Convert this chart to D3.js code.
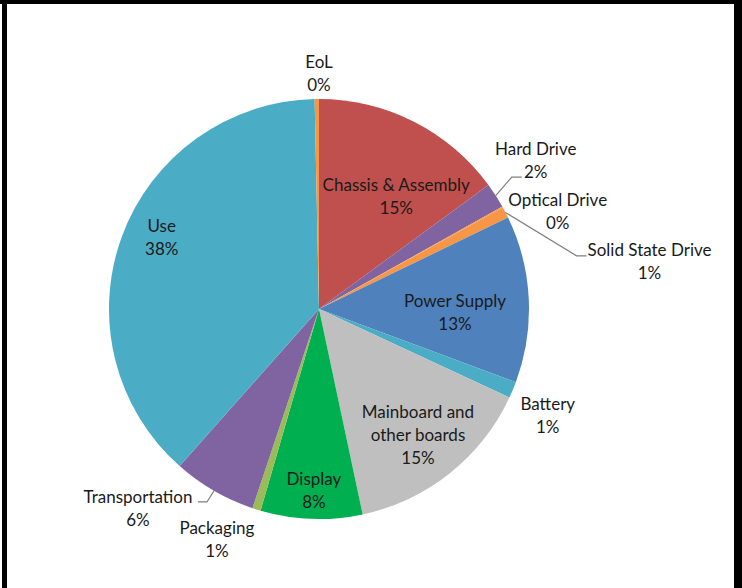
<!DOCTYPE html>
<html>
<head>
<meta charset="utf-8">
<script src="https://cdn.jsdelivr.net/npm/d3@7"></script>
<style>
  body { margin: 0; background: #fff; }
  text { font-family: Lato, "Open Sans", sans-serif; font-size: 17px; fill: #1a1a1a; }
</style>
</head>
<body>
<div id="chart"></div>
<script>
var svgWidth = 742;
var svgHeight = 588;

// slices, clockwise from 12 o'clock
var categories = ["Chassis & Assembly", "Hard Drive", "Optical Drive", "Solid State Drive",
  "Power Supply", "Battery", "Mainboard and other boards", "Display", "Packaging",
  "Transportation", "Use", "EoL"];
var shares = [14.9, 1.94, 0.08, 0.85, 12.8, 1.25, 14.7, 7.8, 0.64, 6.4, 38.0, 0.33];
var colors = ["#C0504D", "#8064A2", "#F79646", "#F79646", "#4F81BD", "#4BACC6",
  "#BFBFBF", "#00B050", "#9BBB59", "#8064A2", "#4BACC6", "#F79646"];

// label placement: distance from centre and angle (deg, clockwise from top)
var labelRadius = [137, 263, 258, 334, 136, 252, 160, 181, 252, 269, 173, 236];
var labelAngle = [34.3, 55.5, 67.7, 81.7, 91.3, 114.8, 141.8, 181.6, 203.9, 222.3, 294.6, 0];
// leader elbow / end relative to the label centre (null = no leader)
var leaders = [null, [[-24, 17], [-14, 17]], null, [[-73, -5], [-63, -5]], null, null, null, null, null,
  [[69, -6], [60, -6]], null, null];

var cx = 319, cy = 309, radius = 210;
var lineHeight = 23;

var svg = d3.select("#chart")
  .append("svg")
  .attr("width", svgWidth)
  .attr("height", svgHeight);

// black frame (top, left, right)
svg.append("rect").attr("x", 0).attr("y", 0).attr("width", svgWidth).attr("height", 4).attr("fill", "#000");
svg.append("rect").attr("x", 2).attr("y", 0).attr("width", 5).attr("height", svgHeight).attr("fill", "#000");
svg.append("rect").attr("x", 734).attr("y", 0).attr("width", 8).attr("height", svgHeight).attr("fill", "#000");

var total = d3.sum(shares);
var pie = d3.pie().sort(null).value(d => d);
var arcs = pie(shares);

var arc = d3.arc().innerRadius(0).outerRadius(radius);

var chartGroup = svg.append("g")
  .attr("transform", `translate(${cx},${cy})`);

chartGroup.selectAll("path.slice")
  .data(arcs)
  .enter()
  .append("path")
  .attr("class", "slice")
  .attr("d", arc)
  .attr("fill", (d, i) => colors[i]);

function polar(r, deg) {
  var a = deg * Math.PI / 180;
  return [r * Math.sin(a), -r * Math.cos(a)];
}

function labelLines(i) {
  var pct = Math.round(shares[i] / total * 100) + "%";
  if (categories[i] == "Mainboard and other boards") {
    return ["Mainboard and", "other boards", pct];
  }
  return [categories[i], pct];
}

// leader lines
arcs.forEach(function(d, i) {
  if (!leaders[i]) return;
  var mid = (d.startAngle + d.endAngle) / 2 * 180 / Math.PI;
  var s = polar(radius, mid);
  var c = polar(labelRadius[i], labelAngle[i]);
  var pts = [s,
    [c[0] + leaders[i][0][0], c[1] + leaders[i][0][1]],
    [c[0] + leaders[i][1][0], c[1] + leaders[i][1][1]]];
  chartGroup.append("path")
    .attr("d", d3.line()(pts))
    .attr("fill", "none")
    .attr("stroke", "#7f7f7f")
    .attr("stroke-width", 1.2);
});

// labels
var labelG = chartGroup.selectAll("g.label")
  .data(arcs)
  .enter()
  .append("g")
  .attr("class", "label")
  .attr("transform", (d, i) => {
    var p = polar(labelRadius[i], labelAngle[i]);
    return `translate(${p[0]},${p[1]})`;
  });

labelG.each(function(d, i) {
  var lines = labelLines(i);
  var g = d3.select(this);
  lines.forEach(function(t, k) {
    g.append("text")
      .attr("x", 0)
      .attr("y", (k - (lines.length - 1) / 2) * lineHeight)
      .attr("text-anchor", "middle")
      .attr("dominant-baseline", "central")
      .text(t);
  });
});
</script>
</body>
</html>
